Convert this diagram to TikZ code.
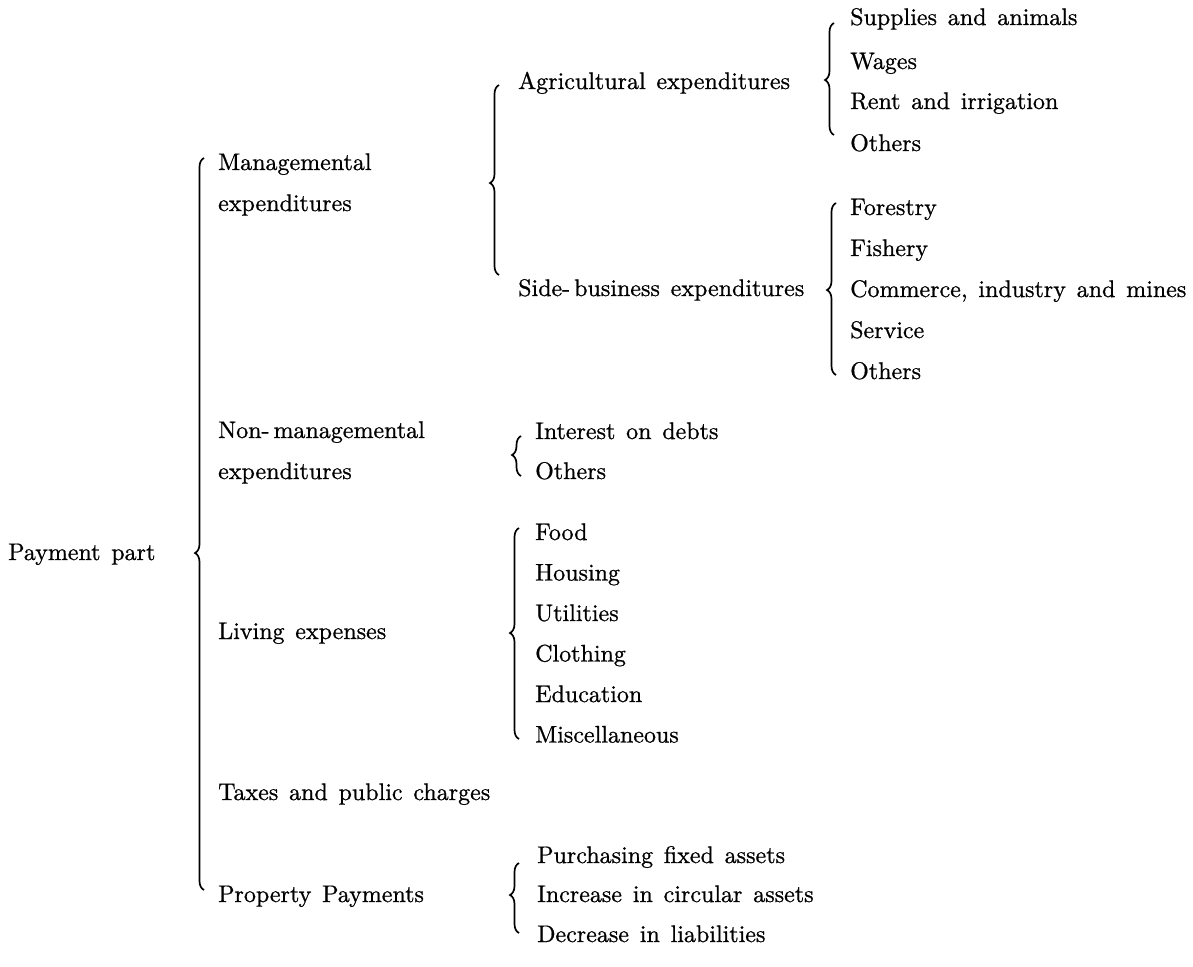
\documentclass[tikz,border=0pt]{standalone}
\usepackage{fontspec}
\newfontfamily\lbfont{lmroman10-regular.otf}[FakeBold=0.8]
\newcommand\lblfont{\lbfont\fontsize{24}{28}\selectfont\spaceskip 0.45em plus 0.1em minus 0.1em\relax}
\usetikzlibrary{decorations.pathreplacing}
\begin{document}
\begin{tikzpicture}[x=1pt,y=1pt,
  lbl/.style={anchor=base west, inner sep=0pt, font=\lblfont},
  brc/.style={line width=1.7pt, decorate, decoration={brace, amplitude=9pt, aspect=#1}}]
\newcommand\mkbrace[5]{%
  \coordinate (#1t) at (#2+4,-#3);
  \coordinate (#1b) at (#2+4,-#5);
  \pgfmathsetmacro\asp{(#5-#4)/(#5-#3)}
  \draw[brc=\asp] (#1b) -- (#1t);
}
\useasboundingbox (0,0) rectangle (1193,-966);
% level 0
\node[lbl] (pp) at (8,-560) {Payment part};
% level 1
\node[lbl] (man) at (218,-170) {Managemental};
\node[lbl] (manb) at (218,-211) {expenditures};
\node[lbl] (non) at (218,-438) {Non-\,managemental};
\node[lbl] (nonb) at (218,-479) {expenditures};
\node[lbl] (liv) at (218,-639) {Living expenses};
\node[lbl] (tax) at (218,-800) {Taxes and public charges};
\node[lbl] (prop) at (218,-902) {Property Payments};
% level 2
\node[lbl] (agr) at (518,-89) {Agricultural expenditures};
\node[lbl] (side) at (518,-296) {Side-\,business expenditures};
\node[lbl] (int) at (535,-439) {Interest on debts};
\node[lbl] (noth) at (535,-479) {Others};
\node[lbl] (food) at (535,-540) {Food};
\node[lbl] (hous) at (535,-580.5) {Housing};
\node[lbl] (util) at (535,-621) {Utilities};
\node[lbl] (clo) at (535,-661.5) {Clothing};
\node[lbl] (edu) at (535,-702) {Education};
\node[lbl] (misc) at (535,-742.5) {Miscellaneous};
\node[lbl] (pur) at (537,-863) {Purchasing fixed assets};
\node[lbl] (inc) at (537,-902) {Increase in circular assets};
\node[lbl] (dec) at (537,-942) {Decrease in liabilities};
% level 3
\node[lbl] (sup) at (850,-25) {Supplies and animals};
\node[lbl] (wag) at (850,-69) {Wages};
\node[lbl] (rent) at (850,-109) {Rent and irrigation};
\node[lbl] (aoth) at (850,-151) {Others};
\node[lbl] (for) at (850,-215) {Forestry};
\node[lbl] (fish) at (850,-256) {Fishery};
\node[lbl] (com) at (850,-297) {Commerce, industry and mines};
\node[lbl] (serv) at (850,-338) {Service};
\node[lbl] (soth) at (850,-379) {Others};
% braces
\mkbrace{bz}{200}{158}{553}{890}
\mkbrace{bm}{495}{85}{183}{275}
\mkbrace{ba}{830}{23}{80}{135}
\mkbrace{bs}{832}{203}{290}{375}
\mkbrace{bn}{517}{436}{455}{476}
\mkbrace{bl}{515}{528}{633}{739}
\mkbrace{bp}{515}{863}{895}{933}
\end{tikzpicture}
\end{document}
